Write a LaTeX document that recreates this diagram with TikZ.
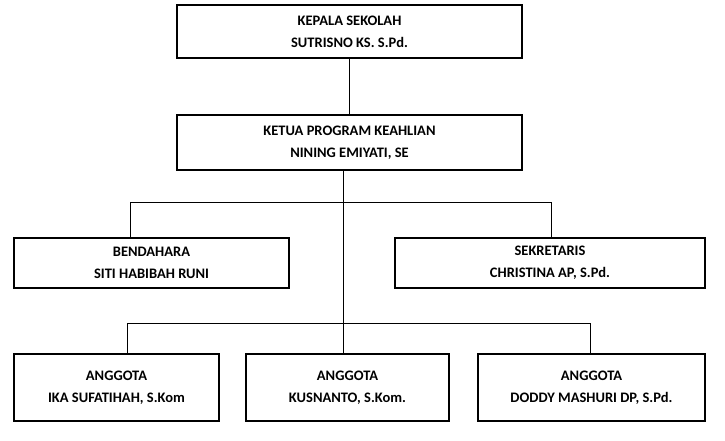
\documentclass[tikz,border=0pt]{standalone}
\usepackage{fontspec}
\setmainfont{Carlito}
\begin{document}
\begin{tikzpicture}[x=1pt,y=-1pt,
  box/.style={draw,line width=2.2pt,align=center,font=\bfseries\fontsize{14.5}{22}\selectfont,inner sep=0pt},
  conn/.style={line width=0.8pt}]
\useasboundingbox[fill=white] (0,0) rectangle (725,441);
\node[box,minimum width=345,minimum height=53] (kep) at (349.5,31.5) {KEPALA SEKOLAH\\SUTRISNO KS. S.Pd.};
\node[box,minimum width=345,minimum height=55] (ket) at (349.5,142.5) {KETUA PROGRAM KEAHLIAN\\NINING EMIYATI, SE};
\node[box,minimum width=275,minimum height=50] (ben) at (151.5,263) {BENDAHARA\\SITI HABIBAH RUNI};
\node[box,minimum width=310,minimum height=50] (sek) at (550,263) {SEKRETARIS\\CHRISTINA AP, S.Pd.};
\node[box,minimum width=205,minimum height=67] (a1) at (116.5,387.5) {ANGGOTA\\IKA SUFATIHAH, S.Kom};
\node[box,minimum width=203,minimum height=67] (a2) at (347.5,387.5) {ANGGOTA\\KUSNANTO, S.Kom.};
\node[box,minimum width=227,minimum height=67] (a3) at (591.5,387.5) {ANGGOTA\\DODDY MASHURI DP, S.Pd.};
\coordinate (j1) at (343,202);
\coordinate (j2) at (343,323);
\draw[conn] (kep.south) -- (ket.north);
\draw[conn] (ket.south -| j1) -- (a2.north -| j1);
\draw[conn] (ben.north -| 130,0) -- (130,202) -- (551,202) -- (sek.north -| 551,0);
\draw[conn] (a1.north -| 127,0) -- (127,323) -- (590,323) -- (a3.north -| 590,0);
\end{tikzpicture}
\end{document}
